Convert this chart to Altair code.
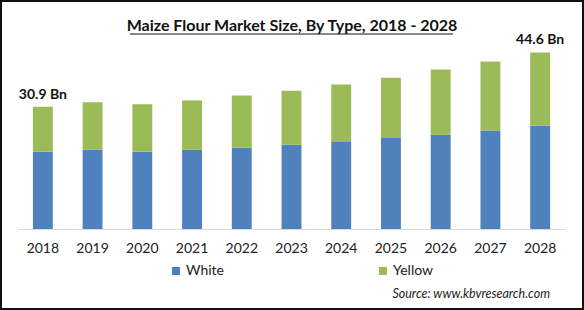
import altair as alt
import pandas as pd

years = ["2018", "2019", "2020", "2021", "2022", "2023", "2024", "2025", "2026", "2027", "2028"]
white = [19.5, 20.0, 19.5, 20.0, 20.5, 21.3, 22.0, 23.0, 23.8, 24.9, 26.1]
yellow = [11.4, 12.0, 12.0, 12.5, 13.2, 13.6, 14.5, 15.2, 16.5, 17.4, 18.5]
series = ["White", "Yellow"]
colors = ["#4F81BD", "#9BBB59"]
label_years = ["2018", "2028"]
label_totals = [30.9, 44.6]
label_texts = ["30.9 Bn", "44.6 Bn"]
title_text = "Maize Flour Market Size, By Type, 2018 - 2028"
source_text = "Source:  www.kbvresearch.com"

FONT = "Lato"

rows = []
for i, y in enumerate(years):
    rows.append({"Year": y, "Type": "White", "Value": white[i], "ord": 0})
    rows.append({"Year": y, "Type": "Yellow", "Value": yellow[i], "ord": 1})
df = pd.DataFrame(rows)
lab = pd.DataFrame({"Year": label_years, "Total": label_totals, "Text": label_texts})

xenc = alt.X("Year:N", sort=years, scale=alt.Scale(paddingInner=0.6, paddingOuter=0.3),
             axis=alt.Axis(title=None, labelAngle=0, ticks=False, domainColor="#d9d9d9",
                           labelFont=FONT, labelFontSize=14, labelColor="#222222",
                           labelPadding=12))

bars = alt.Chart(df).mark_bar().encode(
    x=xenc,
    y=alt.Y("Value:Q", stack="zero", scale=alt.Scale(domain=[0, 48], nice=False), axis=None),
    color=alt.Color("Type:N", sort=series, scale=alt.Scale(domain=series, range=colors),
                    legend=alt.Legend(title=None, orient="none", legendX=151, legendY=225,
                                      direction="horizontal", symbolType="square",
                                      symbolSize=64, symbolStrokeWidth=0, labelFont=FONT,
                                      labelFontSize=14, labelColor="#222222",
                                      columnPadding=152, symbolOffset=0, labelOffset=3)),
    order=alt.Order("ord:Q"),
)

labels = alt.Chart(lab).mark_text(dy=-12, font=FONT, fontSize=14, fontWeight="bold",
                                  color="#111111").encode(
    x=alt.X("Year:N", sort=years),
    y=alt.Y("Total:Q"),
    text="Text:N",
)

title = alt.Chart(pd.DataFrame({"t": [title_text]})).mark_text(
    font=FONT, fontSize=16, fontWeight="bold", color="#111111", baseline="middle"
).encode(x=alt.value(274), y=alt.value(-13), text="t:N")

underline = alt.Chart(pd.DataFrame({"t": [title_text]})).mark_rule(
    color="#111111", strokeWidth=1
).encode(x=alt.value(112), x2=alt.value(435), y=alt.value(-5))

source = alt.Chart(pd.DataFrame({"t": [source_text]})).mark_text(
    font=FONT, fontSize=12.5, fontStyle="italic", color="#222222", align="right",
    baseline="middle"
).encode(x=alt.value(532), y=alt.value(255), text="t:N")

border = alt.Chart(pd.DataFrame({"t": [1]})).mark_rect(
    fill=None, fillOpacity=0, stroke="#111111", strokeWidth=2
).encode(x=alt.value(-17), x2=alt.value(565), y=alt.value(-38), y2=alt.value(270))

chart = alt.layer(border, bars, labels, title, underline, source).properties(
    width=547, height=190,
    autosize=alt.AutoSizeParams(type="none"),
    padding={"left": 18, "top": 39, "right": 19, "bottom": 81},
    background="white",
).configure_view(stroke=None)

chart.save("out.html", embed_options={"renderer": "svg", "actions": False})
